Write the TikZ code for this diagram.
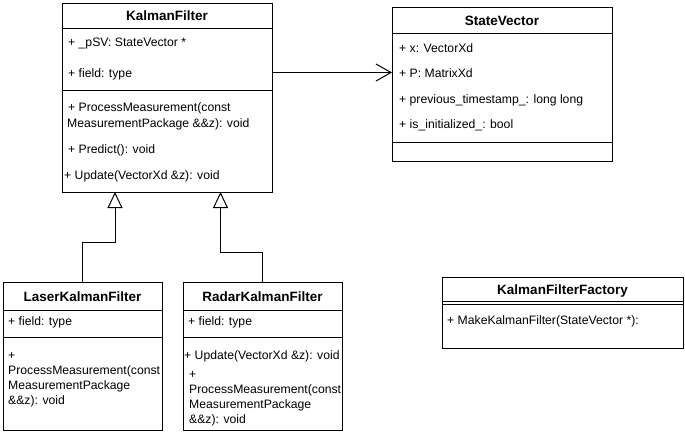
\documentclass[tikz,border=0pt]{standalone}
\usepackage{fontspec}
\setmainfont{Liberation Sans}
\usetikzlibrary{arrows.meta}
\begin{document}
\begin{tikzpicture}[x=1pt,y=-1pt,
  box/.style={draw, line width=1pt, anchor=north west, inner sep=0pt, outer sep=0pt},
  txt/.style={anchor=base west, inner sep=0pt, font=\fontsize{12.2}{15}\selectfont},
  ttl/.style={anchor=base, inner sep=0pt, font=\fontsize{13.5}{15}\selectfont\bfseries},
  sepline/.style={line width=1pt},
  inh/.style={line width=1pt, -{Triangle[open, length=16pt, width=15pt]}},
  assoc/.style={line width=1pt, -{Straight Barb[length=15pt, width=17pt]}}]
\useasboundingbox[fill=white] (0,0) rectangle (685,437);

% KalmanFilter
\node[box, minimum width=210pt, minimum height=189pt] (kf) at (62,3) {};
\node[ttl] (kft) at (167,20.5) {KalmanFilter};
\draw[sepline] (62,28) -- (272,28);
\draw[sepline] (62,90) -- (272,90);
\node[txt] (kf1) at (68,46) {+ \_pSV: StateVector *};
\node[txt] (kf2) at (68,77) {+ field: type};
\node[txt] (kf3) at (68,111) {+ ProcessMeasurement(const};
\node[txt] (kf4) at (67,127) {MeasurementPackage \&\&z): void};
\node[txt] (kf5) at (68,153) {+ Predict(): void};
\node[txt] (kf6) at (64,179) {+ Update(VectorXd \&z): void};

% StateVector
\node[box, minimum width=220pt, minimum height=154pt] (sv) at (392,7) {};
\node[ttl] (svt) at (502,25.5) {StateVector};
\draw[sepline] (392,33) -- (612,33);
\draw[sepline] (392,142) -- (612,142);
\node[txt] (sv1) at (399,52) {+ x: VectorXd};
\node[txt] (sv2) at (399,77) {+ P: MatrixXd};
\node[txt] (sv3) at (399,103) {+ previous\_timestamp\_: long long};
\node[txt] (sv4) at (399,128) {+ is\_initialized\_: bool};

% LaserKalmanFilter
\node[box, minimum width=159pt, minimum height=148pt] (lk) at (3,282) {};
\node[ttl] (lkt) at (82.5,301.5) {LaserKalmanFilter};
\draw[sepline] (3,310) -- (162,310);
\draw[sepline] (3,337) -- (162,337);
\node[txt] (lk1) at (8,325) {+ field: type};
\begin{scope}
\clip (3,337) rectangle (161.5,430);
\node[txt] (lk2) at (8,359) {+};
\node[txt] (lk3) at (8,374) {ProcessMeasurement(const};
\node[txt] (lk4) at (8,389) {MeasurementPackage};
\node[txt] (lk5) at (8,404) {\&\&z): void};
\end{scope}

% RadarKalmanFilter
\node[box, minimum width=159pt, minimum height=148pt] (rk) at (183,282) {};
\node[ttl] (rkt) at (262.5,301.5) {RadarKalmanFilter};
\draw[sepline] (183,310) -- (342,310);
\draw[sepline] (183,337) -- (342,337);
\node[txt] (rk1) at (188,325) {+ field: type};
\begin{scope}
\clip (183,337) rectangle (341.5,430);
\node[txt] (rk2) at (184,359) {+ Update(VectorXd \&z): void};
\node[txt] (rk3) at (189,378) {+};
\node[txt] (rk4) at (189,393) {ProcessMeasurement(const};
\node[txt] (rk5) at (189,408) {MeasurementPackage};
\node[txt] (rk6) at (189,423) {\&\&z): void};
\end{scope}

% KalmanFilterFactory
\node[box, minimum width=241pt, minimum height=71pt] (fac) at (442,277) {};
\node[ttl] (fact) at (562.5,294.5) {KalmanFilterFactory};
\draw[sepline] (442,301) -- (683,301);
\draw[sepline] (442,304) -- (683,304);
\node[txt] (fac1) at (447,324) {+ MakeKalmanFilter(StateVector *):};

% connectors
\coordinate (t1) at (115,192);
\coordinate (t2) at (220.5,192);
\draw[inh] (lk.north) -- ++(0,-40) -| (t1);
\draw[inh] (rk.north) -- ++(0,-30) -| (t2);
\coordinate (a1) at (272,72.5);
\draw[assoc] (a1) -- (a1 -| sv.west);
\end{tikzpicture}
\end{document}
